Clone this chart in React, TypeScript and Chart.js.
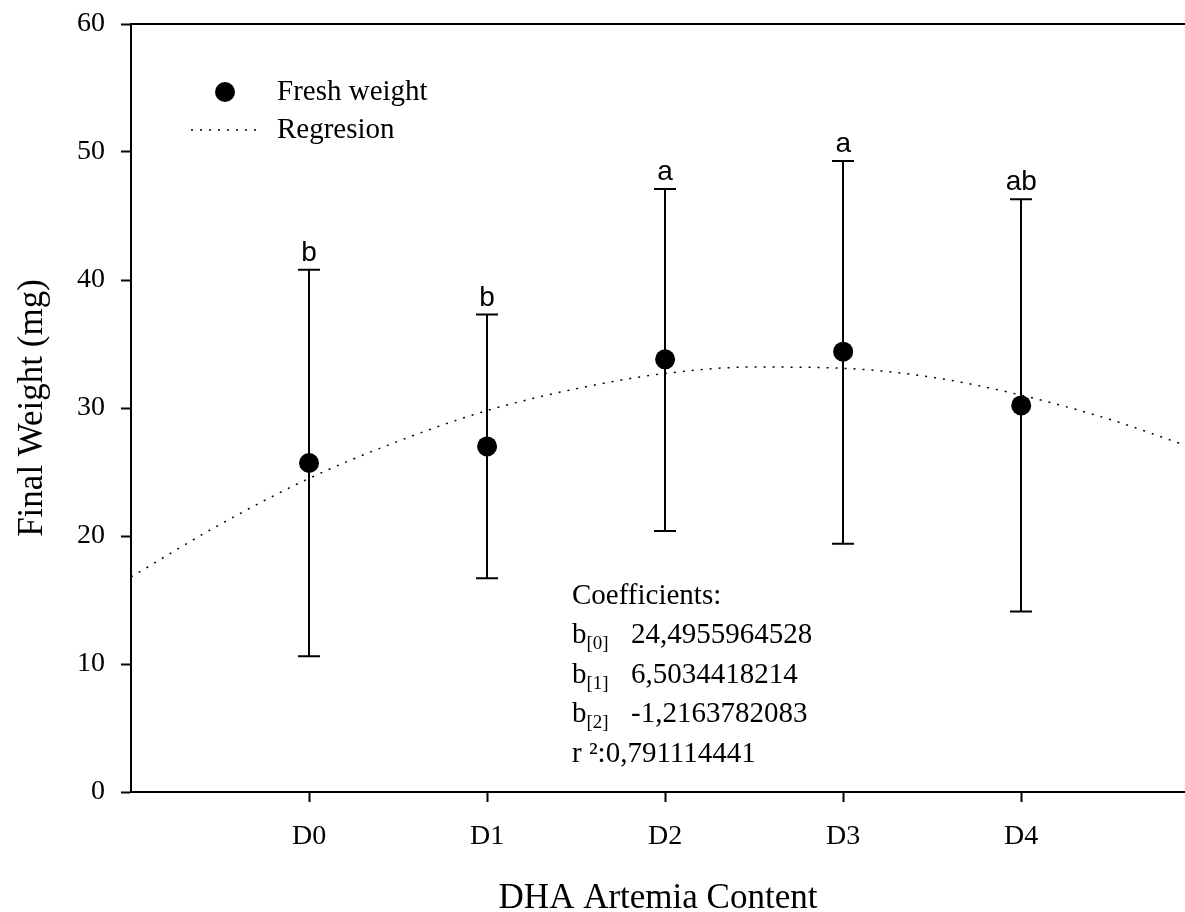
import React, { useEffect, useRef } from 'react';
import { Chart, registerables } from 'chart.js';

Chart.register(...registerables);

// ---- data ----
const categories = ['D0', 'D1', 'D2', 'D3', 'D4'];
const categoryX = [0, 1, 2, 3, 4];
const freshWeight = [25.7, 27.0, 33.8, 34.4, 30.2];
const errorUpper = [40.8, 37.3, 47.1, 49.3, 46.3];
const errorLower = [10.6, 16.7, 20.4, 19.4, 14.1];
const groupLetters = ['b', 'b', 'a', 'a', 'ab'];
const regressionX = [-1, -0.5, 0, 0.5, 1, 1.5, 2, 2.5, 3, 3.5, 4, 4.5, 4.92];
const regressionY = [16.8, 20.9, 24.5, 27.4, 29.8, 31.5, 32.7, 33.2, 33.1, 32.4, 31.0, 29.1, 27.1];
const yTickValues = [0, 10, 20, 30, 40, 50, 60];
const coefficientNames = ['[0]', '[1]', '[2]'];
const coefficientValues = ['24,4955964528', '6,5034418214', '-1,2163782083'];
const rSquaredText = 'r \u00B2:0,791114441';
const legendLabels = ['Fresh weight', 'Regresion'];

const SERIF = "'Liberation Serif', 'Times New Roman', Times, serif";
const SANS = "'Liberation Sans', Arial, Helvetica, sans-serif";

const annotationPlugin = {
  id: 'annotations',
  beforeDatasetsDraw(chart: any) {
    const { ctx, chartArea, scales } = chart;
    const x = scales.x;
    const y = scales.y;
    ctx.save();
    ctx.strokeStyle = '#000';
    ctx.lineWidth = 2;
    // top frame line
    ctx.beginPath();
    ctx.moveTo(chartArea.left, chartArea.top);
    ctx.lineTo(chartArea.right, chartArea.top);
    ctx.stroke();
    // error bars
    for (let i = 0; i < categoryX.length; i++) {
      const px = Math.round(x.getPixelForValue(categoryX[i]));
      const yu = y.getPixelForValue(errorUpper[i]);
      const yl = y.getPixelForValue(errorLower[i]);
      ctx.beginPath();
      ctx.moveTo(px, yu);
      ctx.lineTo(px, yl);
      ctx.moveTo(px - 11, yu);
      ctx.lineTo(px + 11, yu);
      ctx.moveTo(px - 11, yl);
      ctx.lineTo(px + 11, yl);
      ctx.stroke();
    }
    ctx.restore();
  },
  afterDatasetsDraw(chart: any) {
    const { ctx, scales } = chart;
    const x = scales.x;
    const y = scales.y;
    ctx.save();
    ctx.fillStyle = '#000';
    // significance letters
    ctx.font = `28px ${SANS}`;
    ctx.textAlign = 'center';
    ctx.textBaseline = 'alphabetic';
    for (let i = 0; i < categoryX.length; i++) {
      const px = x.getPixelForValue(categoryX[i]);
      const yu = y.getPixelForValue(errorUpper[i]);
      ctx.fillText(groupLetters[i], px, yu - 9);
    }
    // legend
    ctx.beginPath();
    ctx.arc(225, 92, 10, 0, Math.PI * 2);
    ctx.fill();
    ctx.strokeStyle = '#000';
    ctx.lineWidth = 1.5;
    ctx.setLineDash([2, 7]);
    ctx.beginPath();
    ctx.moveTo(191, 130);
    ctx.lineTo(256, 130);
    ctx.stroke();
    ctx.setLineDash([]);
    ctx.font = `29px ${SERIF}`;
    ctx.textAlign = 'left';
    ctx.textBaseline = 'middle';
    ctx.fillText(legendLabels[0], 277, 92);
    ctx.fillText(legendLabels[1], 277, 130);
    // coefficients
    ctx.textBaseline = 'alphabetic';
    const cx = 572;
    ctx.fillText('Coefficients:', cx, 604);
    const baselines = [643, 683, 722];
    for (let i = 0; i < coefficientNames.length; i++) {
      ctx.font = `29px ${SERIF}`;
      ctx.fillText('b', cx, baselines[i]);
      const bw = ctx.measureText('b').width;
      ctx.font = `19px ${SERIF}`;
      ctx.fillText(coefficientNames[i], cx + bw, baselines[i] + 6);
      ctx.font = `29px ${SERIF}`;
      ctx.fillText(coefficientValues[i], 631, baselines[i]);
    }
    ctx.fillText(rSquaredText, cx, 762);
    ctx.restore();
  },
};

export default function App() {
  const canvasRef = useRef<HTMLCanvasElement | null>(null);

  useEffect(() => {
    const canvas = canvasRef.current;
    if (!canvas) return;
    const chart = new Chart(canvas, {
      type: 'scatter',
      data: {
        datasets: [
          {
            label: legendLabels[0],
            data: categoryX.map((v, i) => ({ x: v, y: freshWeight[i] })),
            pointRadius: 10,
            pointBackgroundColor: '#000',
            pointBorderColor: '#000',
            pointBorderWidth: 0,
            showLine: false,
            order: 0,
          },
          {
            label: legendLabels[1],
            data: regressionX.map((v, i) => ({ x: v, y: regressionY[i] })),
            showLine: true,
            pointRadius: 0,
            borderColor: '#000',
            borderWidth: 1.5,
            borderDash: [2, 7],
            cubicInterpolationMode: 'monotone',
            order: 1,
          },
        ],
      },
      options: {
        responsive: false,
        animation: false,
        layout: { autoPadding: false, padding: { top: 24, left: 0, right: 0, bottom: 0 } },
        plugins: {
          legend: { display: false },
          tooltip: { enabled: false },
        },
        scales: {
          x: {
            type: 'linear',
            min: -1,
            max: 4.92,
            afterBuildTicks: (scale: any) => {
              scale.ticks = categoryX.map((v) => ({ value: v }));
            },
            afterFit: (scale: any) => {
              scale.height = 120;
              scale.paddingLeft = 0;
              scale.paddingRight = 0;
            },
            ticks: {
              callback: (v: any) => categories[categoryX.indexOf(Number(v))] ?? '',
              font: { family: SERIF, size: 28 },
              color: '#000',
              padding: 18,
              maxRotation: 0,
              autoSkip: false,
            },
            grid: {
              drawOnChartArea: false,
              drawTicks: true,
              tickLength: 10,
              tickWidth: 2,
              tickColor: '#000',
            },
            border: { display: true, color: '#000', width: 2 },
            title: {
              display: true,
              text: 'DHA Artemia Content',
              font: { family: SERIF, size: 35, lineHeight: 1 },
              color: '#000',
              padding: { top: 0, bottom: -4 },
            },
          },
          y: {
            type: 'linear',
            min: 0,
            max: 60,
            afterBuildTicks: (scale: any) => {
              scale.ticks = yTickValues.map((v) => ({ value: v }));
            },
            afterFit: (scale: any) => {
              scale.width = 131;
              scale.paddingTop = 0;
              scale.paddingBottom = 0;
            },
            ticks: {
              font: { family: SERIF, size: 28 },
              color: '#000',
              padding: 16,
            },
            grid: {
              drawOnChartArea: false,
              drawTicks: true,
              tickLength: 10,
              tickWidth: 2,
              tickColor: '#000',
            },
            border: { display: true, color: '#000', width: 2 },
            title: {
              display: true,
              text: 'Final Weight (mg)',
              font: { family: SERIF, size: 35, lineHeight: 1 },
              color: '#000',
              padding: { top: 15, bottom: 0 },
            },
          },
        },
      } as any,
      plugins: [annotationPlugin],
    });
    return () => chart.destroy();
  }, []);

  return (
    <div style={{ position: 'absolute', left: 0, top: 0, width: 1185, height: 912, background: '#fff' }}>
      <canvas ref={canvasRef} width={1185} height={912} style={{ display: 'block' }} />
    </div>
  );
}
